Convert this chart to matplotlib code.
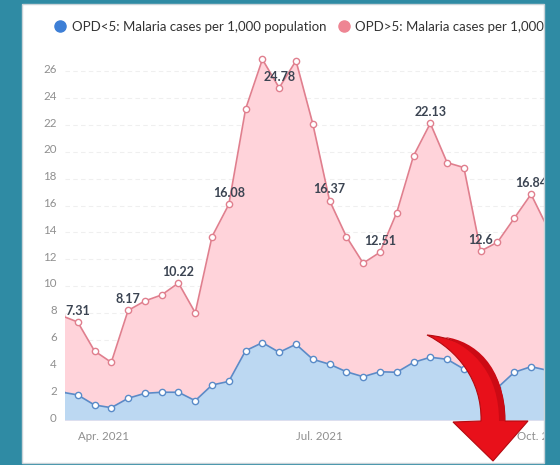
import numpy as np
import pandas as pd
import matplotlib
matplotlib.use("Agg")
import matplotlib.pyplot as plt
import matplotlib.dates as mdates
from matplotlib.patches import Rectangle, PathPatch
from matplotlib.path import Path
from matplotlib.lines import Line2D
from matplotlib.transforms import ScaledTranslation

plt.rcParams['font.family'] = ['Lato', 'DejaVu Sans']

# weekly values, first and last points sit just outside the visible window
weeks = pd.date_range('2021-03-25', periods=30, freq='7D')
opd_over5 = [7.8, 7.31, 5.15, 4.3, 8.17, 8.88, 9.33, 10.22, 8.0, 13.68,
             16.08, 23.2, 26.9, 24.78, 26.8, 22.1, 16.37, 13.68, 11.7, 12.51,
             15.47, 19.7, 22.13, 19.2, 18.83, 12.6, 13.26, 15.05, 16.84, 14.3]
opd_under5 = [2.09, 1.87, 1.12, 0.92, 1.62, 1.99, 2.07, 2.07, 1.44, 2.61,
              2.88, 5.17, 5.77, 5.05, 5.65, 4.53, 4.16, 3.6, 3.23, 3.6,
              3.56, 4.3, 4.68, 4.53, 3.8, 3.1, 2.4, 3.56, 3.98, 3.7]
series_names = ['OPD<5: Malaria cases per 1,000 population',
                'OPD>5: Malaria cases per 1,000 population']
tick_dates = ['2021-04-01', '2021-07-01', '2021-10-01']
tick_labels = ['Apr. 2021', 'Jul. 2021', 'Oct. 2021']
y_ticks = np.arange(0, 27, 2)

W, H = 560, 465
fig = plt.figure(figsize=(W / 100, H / 100), dpi=100)
fig.patch.set_facecolor('white')
ax = fig.add_axes([65 / W, 1 - 420 / H, 479 / W, 370 / H])

pink_line, pink_fill = '#e07f8e', '#ffd3da'
blue_line, blue_fill = '#5a8bc8', '#bcd8f2'

x = mdates.date2num(weeks)
ax.fill_between(x, 0, opd_over5, color=pink_fill, lw=0, zorder=1)
ax.fill_between(x, 0, opd_under5, color=blue_fill, lw=0, zorder=2)
ax.plot(x, opd_over5, color=pink_line, lw=1.2, marker='o', ms=4.5,
        mfc='white', mec=pink_line, mew=1.0, zorder=3)
ax.plot(x, opd_under5, color=blue_line, lw=1.2, marker='o', ms=4.5,
        mfc='white', mec=blue_line, mew=1.0, zorder=4)

for xi, v in zip(x[1::3], opd_over5[1::3]):
    ax.annotate(f"{v:g}", (xi, v), xytext=(0, 8), textcoords='offset points',
                ha='center', va='center', fontsize=9, fontweight='bold',
                color='#3b4452', zorder=5)

x0 = mdates.date2num(pd.Timestamp('2021-04-01'))
ax.set_xlim(x0 - 5.3, x0 + 194.4)
ax.set_ylim(0, 27.6)
ax.set_yticks(y_ticks)
ax.set_xticks(mdates.date2num(pd.to_datetime(tick_dates)))
ax.set_xticklabels(tick_labels)
ax.tick_params(length=0, labelsize=8.3, labelcolor='#8f8f8f')
ax.tick_params(axis='y', pad=6)
ax.tick_params(axis='x', pad=8)
for lab in ax.get_xticklabels():
    lab.set_ha('left')
for lab in ax.get_yticklabels():
    lab.set_transform(lab.get_transform() + ScaledTranslation(0, 3 / 100, fig.dpi_scale_trans))
ax.grid(axis='y', color='#efefef', lw=0.8, ls=(0, (4, 3)))
ax.set_axisbelow(True)
for s in ax.spines.values():
    s.set_visible(False)

handles = [Line2D([], [], ls='none', marker='o', ms=8, color='#3d7fd6'),
           Line2D([], [], ls='none', marker='o', ms=8, color='#ee8593')]
fig.legend(handles, series_names, loc='center left', bbox_to_anchor=(49.5 / W, 1 - 27 / H),
           ncol=2, frameon=False, fontsize=9.5, handlelength=0.8, handletextpad=0.5,
           columnspacing=0.9, borderaxespad=0, labelcolor='#333333')


# red curved arrow, drawn in pixel coordinates of the card
def px(xp, yp):
    return (xp / W, 1 - yp / H)


verts = [px(427, 335),
         px(470, 339), px(505, 365), px(505, 421),
         px(528, 421), px(493, 461), px(453, 422), px(481, 421),
         px(482, 380), px(457, 350), px(427, 335),
         px(427, 335)]
codes = [Path.MOVETO, Path.CURVE4, Path.CURVE4, Path.CURVE4,
         Path.LINETO, Path.LINETO, Path.LINETO, Path.LINETO,
         Path.CURVE4, Path.CURVE4, Path.CURVE4, Path.CLOSEPOLY]
fig.add_artist(PathPatch(Path(verts, codes), facecolor='#e8101a', edgecolor='#b30a10',
                         lw=0.8, transform=fig.transFigure, zorder=9))
# darker shading along the outer side of the shaft
shade = [px(445, 337),
         px(474, 341), px(505, 365), px(505, 421),
         px(499, 421),
         px(499, 374), px(474, 349), px(445, 337),
         px(445, 337)]
shade_codes = [Path.MOVETO, Path.CURVE4, Path.CURVE4, Path.CURVE4,
               Path.LINETO, Path.CURVE4, Path.CURVE4, Path.CURVE4, Path.CLOSEPOLY]
fig.add_artist(PathPatch(Path(shade, shade_codes), facecolor='#cc0a14', edgecolor='none',
                         transform=fig.transFigure, zorder=9))

# teal frame around the card
teal = '#2f8ba4'
for rx, ry, rw, rh in [(0, 0, 22, H), (0, 0, W, 4), (544, 0, 16, H), (0, 463, W, 2)]:
    fig.add_artist(Rectangle((rx / W, 1 - (ry + rh) / H), rw / W, rh / H, facecolor=teal,
                             edgecolor='none', transform=fig.transFigure, zorder=10))
fig.add_artist(Rectangle((22 / W, 1 - 463 / H), 522 / W, 459 / H, facecolor='none',
                         edgecolor='#c9d3d8', lw=1.0, transform=fig.transFigure, zorder=10))

fig.savefig('out.png', dpi=100)
